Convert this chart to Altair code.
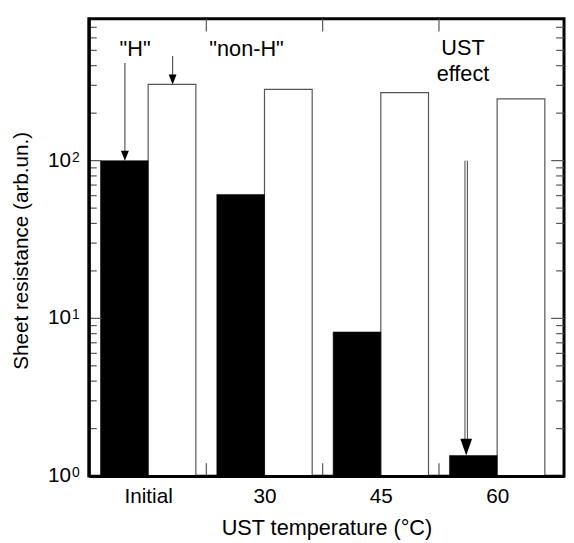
import altair as alt
import pandas as pd

# ---- data ----
categories = ["Initial", "30", "45", "60"]
h_values = [100, 61, 8.2, 1.35]          # "H" (black bars)
nonh_values = [304, 283, 270, 246]       # "non-H" (white bars)

# annotation arrows (x in category units, y in data units)
arrow_x = [-0.2, 0.21]
arrow_start = [416, 460]
arrow_end = [100, 304]
ust_arrow_x = [2.734]
ust_arrow_start = [100]
ust_arrow_end = [1.35]

ann_text = ['"H"', '"non-H"', "UST", "effect"]
ann_x = [-0.112, 0.846, 2.706, 2.706]
ann_y = [508, 508, 516, 355]

ylab_vals = [1, 10, 100]
ylab_exp = ["0", "1", "2"]
xtick_vals = [0.5, 1.5, 2.5]

# ---- layout ----
W, H = 482, 464
XDOM = [-0.51, 3.575]
YDOM = [1, 794.3]
BAR_W = 0.41
FONT = "Liberation Sans"
GRAY = "#555555"

xs = alt.Scale(domain=XDOM, nice=False, zero=False)
ys = alt.Scale(type="log", domain=YDOM, nice=False)

bars = pd.DataFrame({"pos": list(range(len(categories))), "cat": categories,
                     "h": h_values, "nonh": nonh_values, "base": [1] * len(categories)})

label_expr = "[" + ",".join("'" + c + "'" for c in categories) + "][datum.value]"

x_axis = alt.Axis(values=[0, 1, 2, 3], labelExpr=label_expr, ticks=False, grid=False,
                  domain=True, domainColor="black", domainWidth=3,
                  labelFont=FONT, labelFontSize=21, labelColor="black", labelPadding=10,
                  title="UST temperature (°C)", titleFont=FONT, titleFontSize=22,
                  titleFontWeight="normal", titleColor="black", titleY=52,
                  titleBaseline="middle", zindex=1)
y_axis = alt.Axis(labels=False, ticks=False, grid=False, domain=True, domainColor="black",
                  domainWidth=3, title="Sheet resistance (arb.un.)", titleFont=FONT,
                  titleFontSize=21, titleFontWeight="normal", titleColor="black",
                  titleX=-68, titleY=235, titleAngle=270, titleAlign="center",
                  titleBaseline="middle", zindex=1)

white = alt.Chart(bars).transform_calculate(
    xa="datum.pos", xb=f"datum.pos + {BAR_W}"
).mark_rect(fill="white", stroke=GRAY, strokeWidth=1.2).encode(
    x=alt.X("xa:Q", scale=xs, axis=x_axis),
    x2="xb:Q",
    y=alt.Y("nonh:Q", scale=ys, axis=y_axis),
    y2="base:Q",
)

black = alt.Chart(bars).transform_calculate(
    xa=f"datum.pos - {BAR_W}", xb="datum.pos"
).mark_rect(fill="black", stroke="black", strokeWidth=0.5).encode(
    x=alt.X("xa:Q", scale=xs), x2="xb:Q",
    y=alt.Y("h:Q", scale=ys), y2="base:Q",
)

# inward ticks
xt = pd.DataFrame({"v": xtick_vals})
xt_top = alt.Chart(xt).mark_rule(color=GRAY, strokeWidth=1.2).encode(
    x=alt.X("v:Q", scale=xs), y=alt.value(0), y2=alt.value(13))
xt_bot = alt.Chart(xt).mark_rule(color=GRAY, strokeWidth=1.2).encode(
    x=alt.X("v:Q", scale=xs), y=alt.value(H - 13), y2=alt.value(H))

major = pd.DataFrame({"v": [10, 100]})
minor = pd.DataFrame({"v": [m * 10 ** k for k in range(3) for m in range(2, 10) if m * 10 ** k < YDOM[1]]})

def yticks(df, length):
    left = alt.Chart(df).mark_rule(color=GRAY, strokeWidth=1.2).encode(
        y=alt.Y("v:Q", scale=ys), x=alt.value(0), x2=alt.value(length))
    right = alt.Chart(df).mark_rule(color=GRAY, strokeWidth=1.2).encode(
        y=alt.Y("v:Q", scale=ys), x=alt.value(W - length), x2=alt.value(W))
    return [left, right]

# arrows
arr = pd.DataFrame({"x": arrow_x, "y0": arrow_start, "y1": arrow_end})
arr_line = alt.Chart(arr).mark_rule(color=GRAY, strokeWidth=1.2, y2Offset=-6).encode(
    x=alt.X("x:Q", scale=xs), y=alt.Y("y0:Q", scale=ys), y2="y1:Q")
arr_head = alt.Chart(arr).mark_point(shape="M-0.8,-2L0.8,-2L0,0Z", size=100, filled=True,
                                     color="black", opacity=1, strokeWidth=0).encode(
    x=alt.X("x:Q", scale=xs), y=alt.Y("y1:Q", scale=ys))

ust = pd.DataFrame({"x": ust_arrow_x, "y0": ust_arrow_start, "y1": ust_arrow_end})
ust_outer = alt.Chart(ust).mark_rule(color=GRAY, strokeWidth=3.6, y2Offset=-12).encode(
    x=alt.X("x:Q", scale=xs), y=alt.Y("y0:Q", scale=ys), y2="y1:Q")
ust_inner = alt.Chart(ust).mark_rule(color="white", strokeWidth=1.4, y2Offset=-12).encode(
    x=alt.X("x:Q", scale=xs), y=alt.Y("y0:Q", scale=ys), y2="y1:Q")
ust_head = alt.Chart(ust).mark_point(shape="M-0.7,-2L0.7,-2L0,0Z", size=289, filled=True,
                                     color="black", opacity=1, strokeWidth=0).encode(
    x=alt.X("x:Q", scale=xs), y=alt.Y("y1:Q", scale=ys))

ann = pd.DataFrame({"t": ann_text, "x": ann_x, "y": ann_y})
ann_marks = alt.Chart(ann).mark_text(font=FONT, fontSize=22, color="black",
                                     align="center", baseline="middle").encode(
    x=alt.X("x:Q", scale=xs), y=alt.Y("y:Q", scale=ys), text="t:N")

yl = pd.DataFrame({"v": ylab_vals, "e": ylab_exp, "base": ["10"] * 3})
yl_base = alt.Chart(yl).mark_text(font=FONT, fontSize=21, color="black",
                                  align="right", baseline="middle").encode(
    y=alt.Y("v:Q", scale=ys), x=alt.value(-18), text="base:N")
yl_exp = alt.Chart(yl).mark_text(font=FONT, fontSize=14, color="black",
                                 align="left", baseline="alphabetic", dy=1).encode(
    y=alt.Y("v:Q", scale=ys), x=alt.value(-17), text="e:N")

layers = [white, black, xt_top, xt_bot] + yticks(major, 13) + yticks(minor, 8) + \
         [arr_line, arr_head, ust_outer, ust_inner, ust_head, ann_marks, yl_base, yl_exp]

chart = alt.layer(*layers).properties(
    width=W, height=H,
    autosize=alt.AutoSizeParams(type="none"),
    padding={"left": 82, "top": 7, "right": 2, "bottom": 62},
).configure_view(stroke="black", strokeWidth=3)

chart.save("out.html", embed_options={"renderer": "svg", "actions": False})
